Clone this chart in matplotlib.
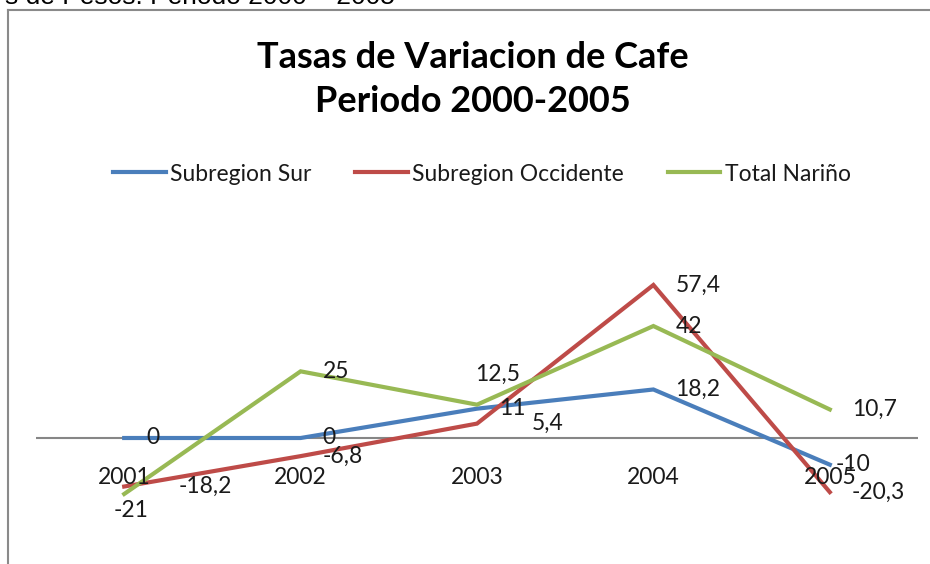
import matplotlib
matplotlib.use("Agg")
import matplotlib.pyplot as plt
from matplotlib.lines import Line2D

# data
years = ["2001", "2002", "2003", "2004", "2005"]
sur = [0, 0, 11, 18.2, -10]
occidente = [-18.2, -6.8, 5.4, 57.4, -20.3]
narino = [-21, 25, 12.5, 42, 10.7]

series_names = ["Subregion Sur", "Subregion Occidente", "Total Nariño"]
series_colors = ["#4A7EBB", "#BE4B48", "#98B954"]

# label nudges (pixels) where Excel moved a label off its default spot
label_nudge = {
    (1, 0): (54, 0),
    (1, 2): (55, 0),
    (2, 0): (-11, -17),
    (2, 2): (-2, 30),
    (0, 4): (6, 0),
}

W, H = 930, 564
FONT = ["Lato", "DejaVu Sans"]
plt.rcParams["font.family"] = FONT
FS = 16.5


def fmt(v):
    if float(v).is_integer():
        return str(int(v))
    return f"{v}".replace(".", ",")


fig = plt.figure(figsize=(W / 100, H / 100), dpi=100)
fig.patch.set_facecolor("white")

# axes placed so that zero sits at y=438px, 2.666 px per unit
ymin, ymax = -38, 89
px_per_unit = 2.666
ax_h = (ymax - ymin) * px_per_unit
ax_bottom = 438 + (-ymin) * px_per_unit
ax = fig.add_axes([36 / W, (H - ax_bottom) / H, 882 / W, ax_h / H])
ax.set_xlim(-0.5, 4.5)
ax.set_ylim(ymin, ymax)

ax.axhline(0, color="#868686", linewidth=1.5, zorder=1)

x = range(len(years))
all_series = [sur, occidente, narino]
for s, (vals, name, col) in enumerate(zip(all_series, series_names, series_colors)):
    ax.plot(x, vals, color=col, linewidth=3, label=name, zorder=2 + s * 0.1,
            solid_joinstyle="miter")
    for i, v in enumerate(vals):
        dx, dy = label_nudge.get((s, i), (22, 0))
        ax.annotate(fmt(v), xy=(i, v), xytext=(dx, dy), textcoords="offset pixels",
                    ha="left", va="center", fontsize=FS, color="#1a1a1a", zorder=5)

for side in ["left", "right", "top"]:
    ax.spines[side].set_visible(False)
ax.spines["bottom"].set_position(("data", 0))
ax.spines["bottom"].set_visible(False)
ax.set_axisbelow(False)
ax.set_xticks(list(x))
ax.set_xticklabels(years, fontsize=FS, color="#1a1a1a")
ax.tick_params(axis="x", length=0, pad=21)
ax.set_yticks([])
ax.patch.set_alpha(0)

# title
fig.text(473 / W, 1 - 68 / H, "Tasas de Variacion de Cafe", ha="center",
         va="baseline", fontsize=26, fontweight="bold", color="black")
fig.text(473 / W, 1 - 112 / H, "Periodo 2000-2005", ha="center",
         va="baseline", fontsize=26, fontweight="bold", color="black")

# legend
fig.legend(loc="center", bbox_to_anchor=(482 / W, 1 - 174 / H), ncol=3,
           frameon=False, fontsize=FS, handlelength=2.3, handletextpad=0.2,
           columnspacing=1.9, labelcolor="#1a1a1a")

# chart frame and the clipped caption above it
fig.add_artist(Line2D([8 / W, 8 / W], [0, 1 - 10 / H], transform=fig.transFigure,
                      color="#8a8a8a", linewidth=1.5))
fig.add_artist(Line2D([8 / W, 1], [1 - 10 / H, 1 - 10 / H], transform=fig.transFigure,
                      color="#8a8a8a", linewidth=1.5))
fig.text(395 / W, 1 - 4 / H, "s de Pesos. Periodo 2000 – 2005", ha="right",
         va="baseline", fontsize=19, family="Liberation Sans", color="black")

fig.savefig("out.png", dpi=100, facecolor="white")
